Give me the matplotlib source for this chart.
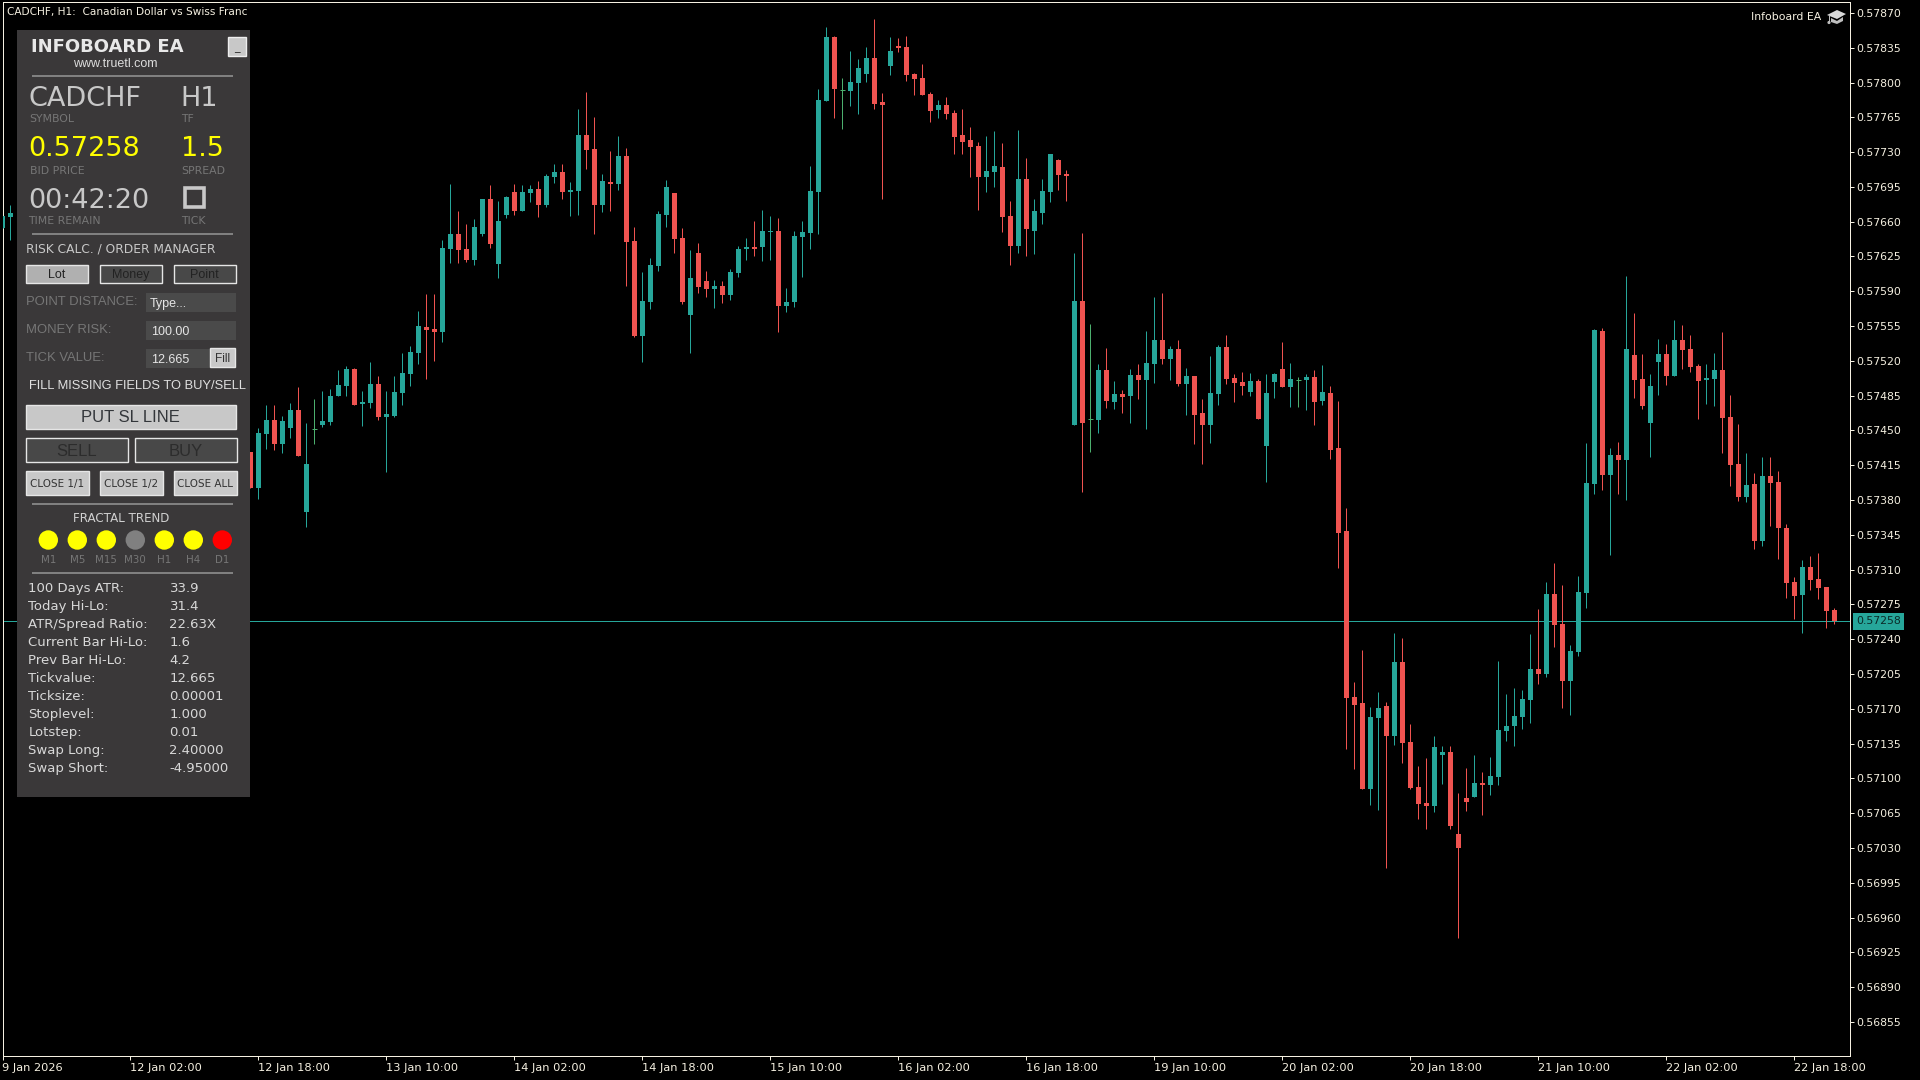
import matplotlib
matplotlib.use("Agg")
import matplotlib.pyplot as plt
from matplotlib.patches import Rectangle, Circle, Polygon

# prices in points (1e-5)
first_bars = [0, 1]
first_opens = [57654, 57665]
first_highs = [57666, 57677]
first_lows = [57654, 57642]
first_closes = [57666, 57669]

start_bar = 31
opens = [57428,
 57392, 57446, 57460, 57436, 57452, 57471, 57368, 57451, 57455, 57458,
 57485, 57495, 57512, 57477, 57478, 57497, 57464, 57465, 57488, 57507,
 57528, 57554, 57552, 57549, 57633, 57648, 57633, 57621, 57648, 57683,
 57617, 57667, 57690, 57671, 57689, 57693, 57677, 57705, 57710, 57690,
 57691, 57747, 57733, 57677, 57700, 57698, 57726, 57641, 57545, 57579,
 57615, 57667, 57689, 57644, 57566, 57628, 57600, 57592, 57595, 57586,
 57608, 57633, 57635, 57635, 57650, 57651, 57575, 57579, 57645, 57649,
 57690, 57781, 57846, 57792, 57791, 57800, 57809, 57825, 57780, 57817,
 57837, 57836, 57809, 57805, 57788, 57772, 57777, 57769, 57747, 57742,
 57736, 57705, 57710, 57715, 57666, 57636, 57703, 57651, 57669, 57690,
 57722, 57708, 57455, 57580, 57462, 57461, 57511, 57479, 57487, 57485,
 57506, 57501, 57517, 57541, 57522, 57532, 57497, 57505, 57468, 57455,
 57487, 57534, 57503, 57499, 57489, 57500, 57434, 57499, 57512, 57494,
 57501, 57501, 57504, 57480, 57488, 57432, 57349, 57182, 57176, 57089,
 57161, 57173, 57143, 57217, 57137, 57091, 57075, 57072, 57124, 57127,
 57044, 57080, 57081, 57095, 57093, 57101, 57148, 57153, 57162, 57179,
 57210, 57205, 57285, 57255, 57198, 57227, 57286, 57396, 57550, 57405,
 57425, 57420, 57526, 57502, 57457, 57519, 57527, 57505, 57541, 57532,
 57515, 57501, 57502, 57511, 57464, 57416, 57383, 57396, 57339, 57404,
 57398, 57352, 57298, 57284, 57313, 57301, 57293, 57269]
highs = [57428,
 57452, 57476, 57476, 57465, 57478, 57494, 57457, 57482, 57490, 57492,
 57511, 57515, 57513, 57490, 57519, 57505, 57490, 57505, 57528, 57535,
 57570, 57587, 57587, 57642, 57698, 57671, 57658, 57663, 57683, 57697,
 57681, 57686, 57698, 57697, 57697, 57701, 57708, 57718, 57718, 57700,
 57773, 57790, 57765, 57708, 57731, 57746, 57734, 57655, 57609, 57623,
 57671, 57702, 57689, 57654, 57632, 57639, 57610, 57601, 57600, 57612,
 57636, 57644, 57661, 57672, 57666, 57664, 57593, 57651, 57661, 57716,
 57793, 57856, 57847, 57805, 57832, 57824, 57836, 57864, 57789, 57846,
 57845, 57847, 57810, 57819, 57790, 57782, 57785, 57772, 57773, 57755,
 57740, 57746, 57751, 57739, 57681, 57752, 57724, 57683, 57703, 57728,
 57723, 57712, 57628, 57649, 57557, 57517, 57533, 57500, 57491, 57512,
 57517, 57550, 57584, 57588, 57535, 57541, 57513, 57505, 57482, 57525,
 57536, 57546, 57507, 57509, 57508, 57502, 57507, 57508, 57539, 57518,
 57504, 57507, 57511, 57516, 57495, 57480, 57372, 57197, 57229, 57172,
 57187, 57177, 57246, 57241, 57155, 57112, 57120, 57143, 57133, 57133,
 57085, 57110, 57123, 57106, 57121, 57218, 57185, 57191, 57189, 57245,
 57270, 57298, 57317, 57295, 57234, 57304, 57437, 57552, 57553, 57432,
 57438, 57605, 57568, 57527, 57507, 57542, 57537, 57561, 57556, 57546,
 57517, 57517, 57528, 57549, 57486, 57456, 57427, 57407, 57423, 57423,
 57409, 57356, 57303, 57320, 57324, 57327, 57293, 57271]
lows = [57392,
 57381, 57431, 57430, 57427, 57442, 57424, 57353, 57436, 57453, 57455,
 57485, 57485, 57476, 57454, 57473, 57460, 57408, 57464, 57476, 57495,
 57517, 57502, 57520, 57539, 57618, 57618, 57619, 57616, 57646, 57634,
 57603, 57664, 57667, 57671, 57680, 57665, 57675, 57699, 57683, 57666,
 57667, 57713, 57648, 57670, 57671, 57692, 57595, 57544, 57519, 57572,
 57610, 57655, 57628, 57577, 57528, 57588, 57584, 57573, 57578, 57581,
 57604, 57621, 57625, 57620, 57621, 57549, 57569, 57574, 57604, 57633,
 57648, 57781, 57764, 57753, 57776, 57768, 57801, 57773, 57683, 57808,
 57831, 57802, 57787, 57787, 57760, 57764, 57763, 57728, 57728, 57705,
 57672, 57690, 57695, 57650, 57616, 57628, 57625, 57627, 57658, 57680,
 57692, 57681, 57455, 57388, 57428, 57447, 57473, 57472, 57468, 57457,
 57482, 57451, 57498, 57517, 57501, 57495, 57466, 57436, 57416, 57437,
 57476, 57497, 57479, 57486, 57485, 57462, 57398, 57483, 57494, 57474,
 57474, 57471, 57455, 57476, 57421, 57312, 57130, 57109, 57089, 57073,
 57068, 57010, 57134, 57115, 57089, 57059, 57049, 57066, 57094, 57049,
 56939, 57067, 57081, 57063, 57083, 57093, 57138, 57133, 57150, 57156,
 57195, 57202, 57232, 57171, 57164, 57223, 57271, 57386, 57390, 57325,
 57386, 57380, 57483, 57472, 57423, 57486, 57496, 57505, 57512, 57509,
 57462, 57477, 57475, 57427, 57394, 57379, 57378, 57331, 57334, 57354,
 57321, 57281, 57260, 57246, 57289, 57280, 57251, 57255]
closes = [57392,
 57447, 57460, 57436, 57459, 57471, 57424, 57416, 57451, 57459, 57485,
 57496, 57512, 57476, 57479, 57497, 57464, 57467, 57489, 57508, 57529,
 57555, 57551, 57549, 57634, 57648, 57632, 57621, 57655, 57683, 57638,
 57661, 57685, 57671, 57690, 57693, 57677, 57706, 57710, 57690, 57692,
 57747, 57732, 57677, 57701, 57698, 57726, 57640, 57545, 57580, 57616,
 57668, 57695, 57643, 57579, 57603, 57594, 57592, 57595, 57586, 57609,
 57633, 57635, 57633, 57651, 57651, 57575, 57579, 57646, 57650, 57691,
 57782, 57846, 57793, 57792, 57801, 57815, 57825, 57778, 57777, 57832,
 57835, 57808, 57804, 57787, 57771, 57777, 57768, 57745, 57740, 57735,
 57705, 57711, 57716, 57665, 57636, 57703, 57653, 57671, 57691, 57728,
 57707, 57706, 57580, 57457, 57462, 57511, 57480, 57487, 57484, 57506,
 57501, 57518, 57541, 57522, 57532, 57497, 57505, 57466, 57455, 57488,
 57534, 57502, 57498, 57495, 57500, 57462, 57488, 57507, 57494, 57502,
 57501, 57504, 57479, 57489, 57430, 57347, 57181, 57174, 57089, 57162,
 57171, 57143, 57217, 57136, 57090, 57074, 57072, 57132, 57127, 57052,
 57030, 57076, 57095, 57093, 57102, 57149, 57153, 57163, 57180, 57210,
 57205, 57285, 57254, 57198, 57228, 57287, 57397, 57551, 57405, 57425,
 57420, 57532, 57501, 57475, 57495, 57527, 57505, 57541, 57531, 57514,
 57500, 57503, 57511, 57463, 57415, 57383, 57395, 57339, 57404, 57397,
 57352, 57297, 57283, 57313, 57300, 57292, 57268, 57258]

bid = 0.57258
price_ticks_top = 57870
price_tick_step = 35
price_tick_count = 30
time_tick_bars = list(range(0, 225, 16))
time_labels = ["9 Jan 2026", "12 Jan 02:00", "12 Jan 18:00", "13 Jan 10:00", "14 Jan 02:00",
               "14 Jan 18:00", "15 Jan 10:00", "16 Jan 02:00", "16 Jan 18:00", "19 Jan 10:00",
               "20 Jan 02:00", "20 Jan 18:00", "21 Jan 10:00", "22 Jan 02:00", "22 Jan 18:00"]

stat_names = ["100 Days ATR:", "Today Hi-Lo:", "ATR/Spread Ratio:", "Current Bar Hi-Lo:", "Prev Bar Hi-Lo:",
              "Tickvalue:", "Ticksize:", "Stoplevel:", "Lotstep:", "Swap Long:", "Swap Short:"]
stat_values = ["33.9", "31.4", "22.63X", "1.6", "4.2", "12.665", "0.00001", "1.000", "0.01", "2.40000", "-4.95000"]
tf_names = ["M1", "M5", "M15", "M30", "H1", "H4", "D1"]
tf_colors = ["#FFFF00", "#FFFF00", "#FFFF00", "#808080", "#FFFF00", "#FFFF00", "#FF0000"]

GREEN = "#26A69A"
RED = "#EF5350"
DOJI = "#4CAF6E"
CREAM = "#F5F0E1"
W, H = 1920, 1080

fig = plt.figure(figsize=(19.2, 10.8), dpi=100, facecolor="black")
ax = fig.add_axes([2.5 / W, 1 - 1056 / H, (1850 - 2.5) / W, (1056 - 2) / H], facecolor="black")


def draw_candles(bars, o, h, l, c):
    for x, op, hi, lo, cl in zip(bars, o, h, l, c):
        col = GREEN if cl > op else RED if cl < op else DOJI
        ax.vlines(x, lo / 1e5, hi / 1e5, color=col, lw=0.72, zorder=3)
        if cl == op:
            ax.hlines(op / 1e5, x - 0.3125, x + 0.3125, color=col, lw=0.72, zorder=3)
        else:
            ax.bar(x, abs(cl - op) / 1e5, bottom=min(op, cl) / 1e5, width=0.625, color=col,
                   linewidth=0, zorder=4)


draw_candles(first_bars, first_opens, first_highs, first_lows, first_closes)
draw_candles([start_bar + i for i in range(len(opens))], opens, highs, lows, closes)

ax.axhline(bid, color=GREEN, lw=0.72, zorder=1)
ax.set_xlim(0.025, 230.96)
ax.set_ylim(0.568207, 0.57881)

ax.yaxis.tick_right()
ax.set_yticks([(price_ticks_top - price_tick_step * i) / 1e5 for i in range(price_tick_count)])
ax.set_yticklabels(["%.5f" % ((price_ticks_top - price_tick_step * i) / 1e5) for i in range(price_tick_count)])
ax.set_xticks(time_tick_bars)
ax.set_xticklabels(time_labels, ha="left")
ax.tick_params(colors=CREAM, labelsize=7.8, length=3, width=0.72, pad=1.5)
ax.tick_params(axis="x", labelsize=8.2, pad=2)
for s in ax.spines.values():
    s.set_color(CREAM)
    s.set_linewidth(0.72)
ax.annotate("%.5f" % bid, xy=(1, bid), xycoords=ax.get_yaxis_transform(), xytext=(4.5, 0),
            textcoords="offset points", va="center", ha="left", fontsize=7.8, color="#0A2A28",
            bbox=dict(boxstyle="square,pad=0.3", fc=GREEN, ec="none"), zorder=6)

# overlay in screen pixels for the panel
ov = fig.add_axes([0, 0, 1, 1], facecolor="none")
ov.set_xlim(0, W)
ov.set_ylim(H, 0)
ov.axis("off")


def box(x0, y0, x1, y1, fc, ec="none", lw=0.72):
    ov.add_patch(Rectangle((x0, y0), x1 - x0, y1 - y0, fc=fc, ec=ec, lw=lw))


def txt(x, y, s, size, color, family="DejaVu Sans", ha="left", weight="normal"):
    ov.text(x, y, s, fontsize=size, color=color, family=family, ha=ha, va="center", weight=weight)


def button(x0, y0, x1, y1, fc, label, size, color, family="Liberation Sans"):
    box(x0 - 0.7, y0 - 0.7, x1 - 0.7, y1 - 0.7, fc, ec="#E6E6E6", lw=1)
    txt((x0 + x1) / 2 - 0.7, (y0 + y1) / 2 + 0.5, label, size, color, family=family, ha="center")


txt(7, 12, "CADCHF, H1:  Canadian Dollar vs Swiss Franc", 7.6, CREAM)
txt(1751, 16.5, "Infoboard EA", 7.8, CREAM)
ov.add_patch(Polygon([(1827, 15), (1837, 10), (1846, 14), (1837, 19)], fc="#D8D8D8", ec="none"))
ov.add_patch(Polygon([(1831, 18), (1837, 21), (1843, 17), (1843, 21), (1837, 24), (1831, 22)], fc="#BEBEBE", ec="none"))
ov.plot([1829, 1829], [15, 22], color="#BEBEBE", lw=0.72)
ov.add_patch(Circle((1829, 22.5), 1.6, fc="#BEBEBE", ec="none"))

LABEL = "#767676"
TEXT = "#C8C8C8"
box(17, 30, 250, 797, "#3A3839")
txt(31, 47.5, "INFOBOARD EA", 13, "#E8E8E8", weight="bold")
box(227.5, 37, 245.5, 55.5, "#C8C8C8", ec="#EEEEEE", lw=1)
txt(236.5, 48, "_", 8, "#222222", ha="center")
txt(73.5, 64, "www.truetl.com", 9, "#DDDDDD", family="Liberation Sans")
for yd in [76, 234, 504, 572.7]:
    box(32, yd - 1, 233, yd + 1, "#808080")

txt(28, 98.5, "CADCHF", 19.5, TEXT)
txt(180, 98.5, "H1", 19.5, TEXT)
txt(29.5, 119.5, "SYMBOL", 7.8, LABEL)
txt(181, 119.5, "TF", 7.8, LABEL)
txt(28, 149.5, "0.57258", 19.5, "#FFFF00")
txt(181, 149.5, "1.5", 19.5, "#FFFF00")
txt(29.5, 170.5, "BID PRICE", 7.8, LABEL)
txt(181, 170.5, "SPREAD", 7.8, LABEL)
txt(28, 200.5, "00:42:20", 19.5, TEXT)
ov.add_patch(Rectangle((184.5, 187.5), 19, 19, fc="none", ec=TEXT, lw=2.6))
txt(28.5, 221.5, "TIME REMAIN", 7.8, LABEL)
txt(181, 221.5, "TICK", 7.8, LABEL)

txt(26, 248.5, "RISK CALC. / ORDER MANAGER", 8.8, TEXT)
button(26.5, 265.5, 88.5, 284, "#B0B0B0", "Lot", 9, "#222222")
button(100.5, 265.5, 162.5, 284, "#484848", "Money", 9, "#222222")
button(174.5, 265.5, 236.5, 284, "#484848", "Point", 9, "#222222")

txt(26, 302, "POINT DISTANCE:", 9.4, LABEL, family="Liberation Sans")
txt(26, 330, "MONEY RISK:", 9.4, LABEL, family="Liberation Sans")
txt(26, 358, "TICK VALUE:", 9.4, LABEL, family="Liberation Sans")
box(146, 293, 236, 312, "#4A4A4A")
box(146, 321, 236, 340, "#4A4A4A")
box(146, 349, 236, 368, "#4A4A4A")
txt(150, 304, "Type...", 9, "#E6E6E6", family="Liberation Sans")
txt(151, 332, "100.00", 9, "#E6E6E6", family="Liberation Sans")
txt(151, 360, "12.665", 9, "#E6E6E6", family="Liberation Sans")
button(211, 349, 236, 367.5, "#C8C8C8", "Fill", 8.6, "#333333")
txt(29, 386, "FILL MISSING FIELDS TO BUY/SELL", 9.3, "#E0E0E0", family="Liberation Sans")

button(26.5, 405.5, 236.5, 429.5, "#C8C8C8", "PUT SL LINE", 12, "#33363A")
button(26.5, 438.5, 128.5, 462.5, "#484848", "SELL", 12, "#2C2C2C")
button(135.5, 438.5, 237.5, 462.5, "#484848", "BUY", 12, "#2C2C2C")
button(26.5, 471.5, 89.5, 495.5, "#C8C8C8", "CLOSE 1/1", 7.5, "#333333", family="DejaVu Sans")
button(100.5, 471.5, 163.5, 495.5, "#C8C8C8", "CLOSE 1/2", 7.5, "#333333", family="DejaVu Sans")
button(174.5, 471.5, 237.5, 495.5, "#C8C8C8", "CLOSE ALL", 7.5, "#333333", family="DejaVu Sans")

txt(121.3, 518.5, "FRACTAL TREND", 8.6, "#D0D0D0", ha="center")
for i, (name, col) in enumerate(zip(tf_names, tf_colors)):
    cx = 48.3 + 29 * i
    ov.add_patch(Circle((cx, 540), 9.7, fc=col, ec="none"))
    txt(cx, 560, name, 7.4, LABEL, ha="center")

for i, (name, val) in enumerate(zip(stat_names, stat_values)):
    yy = 588.5 + 18 * i
    txt(28.5, yy, name, 9.5, "#D8D8D8")
    txt(169.5, yy, val, 9.5, "#D8D8D8")

fig.savefig("out.png", dpi=100, facecolor="black")
